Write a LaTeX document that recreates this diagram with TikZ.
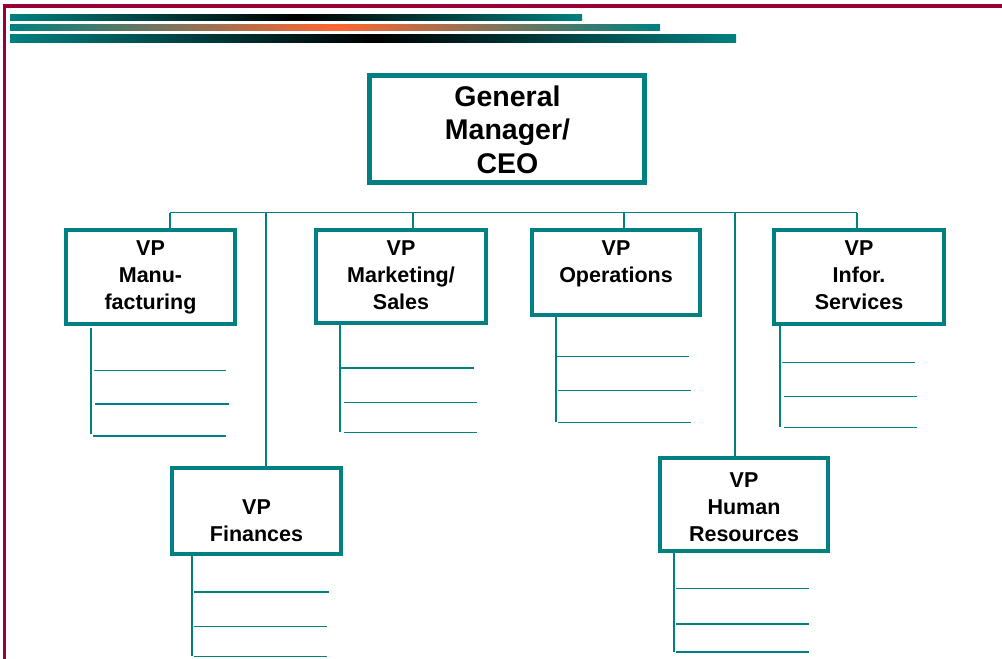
\documentclass[tikz,border=0pt]{standalone}
\usepackage{fontspec}
\setmainfont{Liberation Sans}
\definecolor{tealc}{HTML}{008080}
\definecolor{maroonc}{HTML}{990033}
\definecolor{orangec}{HTML}{FF6633}
\newcommand\ocell[1]{\begin{tabular}[t]{@{}c@{}}#1\end{tabular}}
\begin{document}
\begin{tikzpicture}[x=1pt,y=-1pt,
  vpbox/.style={draw=tealc, line width=4pt, rectangle, inner sep=0pt, outer sep=0pt},
  gmbox/.style={vpbox, line width=5pt},
  vptext/.style={anchor=base, inner sep=0pt, font=\fontsize{21.5}{27}\selectfont\bfseries},
  gmtext/.style={anchor=base, inner sep=0pt, font=\fontsize{28.5}{33.5}\selectfont\bfseries},
  bus/.style={draw=tealc, line width=1.5pt},
  drop/.style={draw=tealc, line width=2pt},
  thin/.style={draw=tealc, line width=1pt},
  thick/.style={draw=tealc, line width=2pt}]
\useasboundingbox (0,0) rectangle (1002,659);
% frame
\fill[maroonc] (3,4) rectangle (1002,7.7);
\fill[maroonc] (3,4) rectangle (5.5,659);
% gradient bars
\shade[left color=tealc, right color=tealc, middle color=black] (10,14) rectangle (582,20);
\shade[left color=tealc, right color=tealc, middle color=orangec] (10,24) rectangle (660,30);
\shade[left color=tealc, right color=tealc, middle color=black] (10,34) rectangle (736,42);
% boxes
\node[gmbox, minimum width=275pt, minimum height=107pt] (gm) at (506.5,128.5) {};
\node[vpbox, minimum width=169pt, minimum height=94pt] (manu) at (150.5,277) {};
\node[vpbox, minimum width=170pt, minimum height=93pt] (mkt) at (401,276.5) {};
\node[vpbox, minimum width=168pt, minimum height=85pt] (ops) at (616,272.5) {};
\node[vpbox, minimum width=170pt, minimum height=94pt] (inf) at (859,277) {};
\node[vpbox, minimum width=169pt, minimum height=86pt] (fin) at (256.5,511) {};
\node[vpbox, minimum width=168pt, minimum height=93pt] (hr) at (744,504.5) {};
% texts
\node[gmtext] (gmt) at (507.5,106) {\ocell{General\\Manager/\\CEO}};
\node[vptext] (manut) at (150.5,255) {\ocell{VP\\Manu-\\facturing}};
\node[vptext] (mktt) at (401,255) {\ocell{VP\\Marketing/\\Sales}};
\node[vptext] (opst) at (616,255) {\ocell{VP\\Operations}};
\node[vptext] (inft) at (859,255) {\ocell{VP\\Infor.\\Services}};
\node[vptext] (fint) at (256.5,514) {\ocell{VP\\Finances}};
\node[vptext] (hrt) at (744,487) {\ocell{VP\\Human\\Resources}};
% bus
\coordinate (b1) at (170,212.5);
\coordinate (b2) at (266,212.5);
\coordinate (b3) at (413,212.5);
\coordinate (b4) at (624,212.5);
\coordinate (b5) at (735,212.5);
\coordinate (b6) at (857,212.5);
\draw[bus] (b1) -- (b6);
\draw[bus] (b1) -- (b1 |- manu.north);
\draw[drop] (b2) -- (b2 |- fin.north);
\draw[bus] (b3) -- (b3 |- mkt.north);
\draw[bus] (b4) -- (b4 |- ops.north);
\draw[bus] (b5) -- (b5 |- hr.north);
\draw[bus] (b6) -- (b6 |- inf.north);
% slot lines: manufacturing
\draw[drop] (91,328) -- (91,434);
\draw[thin] (94,370) -- (226,370);
\draw[thick] (95,404) -- (229,404);
\draw[thick] (93,436) -- (226,436);
% marketing
\draw[drop] (340,325) -- (340,432);
\draw[thick] (340,368) -- (474,368);
\draw[thin] (344,402) -- (477,402);
\draw[thin] (344,432) -- (477,432);
% operations
\draw[drop] (556,317) -- (556,422);
\draw[thin] (557,356) -- (689,356);
\draw[thin] (558,390) -- (691,390);
\draw[thin] (558,422) -- (691,422);
% infor
\draw[drop] (780,326) -- (780,427);
\draw[thin] (782,362) -- (915,362);
\draw[thin] (784,396) -- (917,396);
\draw[thin] (784,427) -- (917,427);
% finances
\draw[drop] (192,556) -- (192,656);
\draw[thick] (194,592) -- (329,592);
\draw[thin] (194,626) -- (327,626);
\draw[thin] (194,656) -- (327,656);
% human resources
\draw[drop] (674,553) -- (674,652);
\draw[thin] (676,588) -- (809,588);
\draw[thick] (676,624) -- (809,624);
\draw[thick] (676,652) -- (809,652);
\end{tikzpicture}
\end{document}
